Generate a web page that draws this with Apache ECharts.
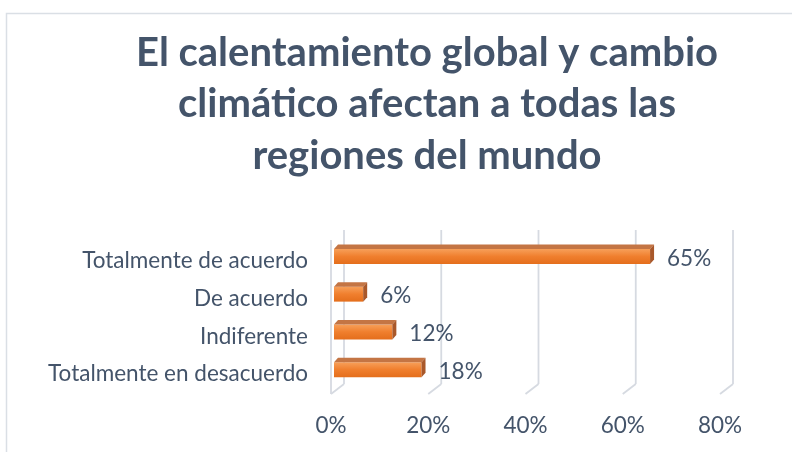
<!DOCTYPE html>
<html>
<head>
<meta charset="utf-8">
<title>Calentamiento global</title>
<script src="https://cdn.jsdelivr.net/npm/echarts@6/dist/echarts.min.js"></script>
<style>
  html, body { margin: 0; padding: 0; background: #fff; }
  #main { width: 792px; height: 452px; }
</style>
</head>
<body>
<div id="main"></div>
<script>
// datos del grafico
var categories = ['Totalmente de acuerdo', 'De acuerdo', 'Indiferente', 'Totalmente en desacuerdo'];
var values = [65, 6, 12, 18];
var xTicks = [0, 20, 40, 60, 80];
var titleText = 'El calentamiento global y cambio\nclimático afectan a todas las\nregiones del mundo';

var txtColor = '#44546A';
var wallColor = '#D6DAE1';
var font = 'Lato, "Open Sans", sans-serif';

var myChart = echarts.init(document.getElementById('main'));

// profundidad 3D de las paredes y de las barras (px)
var wallDx = 13, wallDy = 10;
var barDx = 4, barDy = 4.5, barH = 15;

function renderWall(params, api) {
  var cs = params.coordSys;
  var x = api.coord([api.value(0), 0])[0];
  var top = cs.y, bottom = cs.y + cs.height;
  var st = { stroke: wallColor, lineWidth: 1.8 };
  var kids = [
    { type: 'line', shape: { x1: x + wallDx, y1: top - 12, x2: x + wallDx, y2: bottom - 9 }, style: st },
    { type: 'line', shape: { x1: x + wallDx, y1: bottom - 9, x2: x, y2: bottom + 1 }, style: st }
  ];
  if (api.value(0) === 0) {
    kids.push({ type: 'line', shape: { x1: x, y1: top - 2, x2: x, y2: bottom + 1 }, style: st });
  }
  return { type: 'group', children: kids };
}

function renderBar(params, api) {
  var v = api.value(0), i = api.value(1);
  var x0 = api.coord([0, i])[0] + 3;
  var p = api.coord([v, i]);
  var x1 = p[0] + 3;
  var cy = p[1] - 4.5;
  var t = cy - barH / 2, b = cy + barH / 2;
  return {
    type: 'group',
    children: [
      {
        type: 'rect',
        shape: { x: x0, y: t, width: x1 - x0, height: barH },
        style: {
          fill: new echarts.graphic.LinearGradient(0, 0, 0, 1, [
            { offset: 0, color: '#F7A05A' },
            { offset: 0.5, color: '#F07F2E' },
            { offset: 1, color: '#E46E1C' }
          ])
        }
      },
      {
        type: 'polygon',
        shape: { points: [[x0, t], [x0 + barDx, t - barDy], [x1 + barDx, t - barDy], [x1, t]] },
        style: { fill: '#C47544' }
      },
      {
        type: 'polygon',
        shape: { points: [[x1, t], [x1 + barDx, t - barDy], [x1 + barDx, b - barDy], [x1, b]] },
        style: { fill: '#A9582A' }
      },
      {
        type: 'text',
        style: {
          x: x1 + barDx + 13, y: cy + 2,
          text: v + '%',
          fill: txtColor, font: '22.5px ' + font,
          textAlign: 'left', textVerticalAlign: 'middle'
        }
      }
    ]
  };
}

var option = {
  backgroundColor: '#fff',
  animation: false,
  graphic: [
    {
      type: 'rect', z: -1,
      shape: { x: 6.5, y: 13.5, width: 900, height: 500 },
      style: { fill: null, stroke: '#DADFE5', lineWidth: 1.5 }
    },
    {
      type: 'text', x: 427, y: 27,
      style: {
        text: titleText, fill: txtColor,
        font: 'bold 40px ' + font,
        textAlign: 'center', lineHeight: 51.5
      }
    }
  ],
  grid: { left: 331, right: 72, top: 242, height: 151 },
  xAxis: {
    type: 'value', min: 0, max: 80, interval: 20,
    axisLine: { show: false }, axisTick: { show: false }, splitLine: { show: false },
    axisLabel: { formatter: '{value}%', color: txtColor, fontSize: 22.5, fontFamily: font, margin: 21 }
  },
  yAxis: {
    type: 'category', data: categories, inverse: true,
    axisLine: { show: false }, axisTick: { show: false },
    axisLabel: { color: txtColor, fontSize: 22.5, fontFamily: font, margin: 23 }
  },
  series: [
    {
      type: 'custom', renderItem: renderWall, clip: false, silent: true, z: 1,
      data: xTicks.map(function (v) { return [v]; })
    },
    {
      type: 'custom', renderItem: renderBar, clip: false, z: 2,
      encode: { x: 0, y: 1 },
      data: values.map(function (v, i) { return [v, i]; })
    }
  ]
};

myChart.setOption(option);
</script>
</body>
</html>
